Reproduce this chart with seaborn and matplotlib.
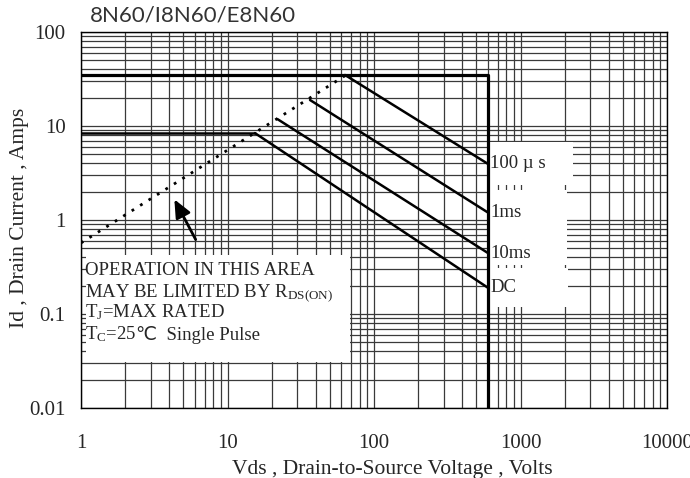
import matplotlib
matplotlib.use("Agg")
import matplotlib.pyplot as plt
import matplotlib.ticker as mticker
from matplotlib.patches import Rectangle
import seaborn as sns
import pandas as pd

# ---- data ----
title = "8N60/I8N60/E8N60"
vds_rds = [1.0, 63.4]          # RDS(on) limit (dotted)
id_rds = [0.57, 34.3]
id_max_pulse = 34.5             # pulsed current limit
id_max_dc = 8.4                 # continuous current limit
v_max = 600                     # BVdss limit
pulse_labels = ["100 \u00b5 s", "1ms", "10ms", "DC"]
v_start = [63.4, 36.6, 22.0, 15.4]
i_start = [34.9, 18.9, 11.8, 8.4]
i_end = [3.95, 1.20, 0.445, 0.19]
x_ticks = [1, 10, 100, 1000, 10000]
x_ticklabels = ["1", "10", "100", "1000", "10000"]
y_ticks = [0.01, 0.1, 1, 10, 100]
y_ticklabels = ["0.01", "0.1", "1", "10", "100"]

sns.set_theme(style="white")
serif = ["Liberation Serif", "DejaVu Sans", "Noto Sans CJK SC"]
plt.rcParams["font.family"] = serif
plt.rcParams["mathtext.fontset"] = "custom"
plt.rcParams["mathtext.rm"] = "Liberation Serif"
plt.rcParams["mathtext.it"] = "Liberation Serif"

fig = plt.figure(figsize=(6.9, 4.78), dpi=100)
ax = fig.add_axes([81/690, 1-408/478, 586/690, 376/478])
ax.set_xscale("log")
ax.set_yscale("log")
ax.set_xlim(1, 10000)
ax.set_ylim(0.01, 100)

ax.xaxis.set_minor_locator(mticker.LogLocator(base=10, subs=range(2, 10), numticks=20))
ax.yaxis.set_minor_locator(mticker.LogLocator(base=10, subs=range(2, 10), numticks=20))
ax.xaxis.set_minor_formatter(mticker.NullFormatter())
ax.yaxis.set_minor_formatter(mticker.NullFormatter())
ax.grid(True, which="both", color="#3a3a3a", linewidth=0.9, zorder=0)
ax.set_axisbelow(True)

# white label boxes covering the grid
box_kw = dict(transform=ax.transAxes, facecolor="white", edgecolor="none", zorder=1.5)
ax.add_patch(Rectangle((0.008, 0.122), 0.451, 0.285, **box_kw))
ax.add_patch(Rectangle((0.698, 0.593), 0.142, 0.114, **box_kw))
ax.add_patch(Rectangle((0.698, 0.380), 0.131, 0.200, **box_kw))
ax.add_patch(Rectangle((0.698, 0.269), 0.133, 0.103, **box_kw))

# boundary lines
lim = pd.DataFrame({"v": [1, v_max, v_max], "i": [id_max_pulse, id_max_pulse, 0.01]})
sns.lineplot(data=lim, x="v", y="i", sort=False, estimator=None, color="black",
             linewidth=2.3, ax=ax, zorder=3)
dc = pd.DataFrame({"v": [1, v_start[3]], "i": [id_max_dc, id_max_dc]})
sns.lineplot(data=dc, x="v", y="i", sort=False, estimator=None, color="black",
             linewidth=1.8, ax=ax, zorder=3)
rds = pd.DataFrame({"v": vds_rds, "i": id_rds})
sns.lineplot(data=rds, x="v", y="i", sort=False, estimator=None, color="black",
             linewidth=2.0, linestyle=(0, (1, 2.6)), ax=ax, zorder=3)

for lab, vs, is_, ie in zip(pulse_labels, v_start, i_start, i_end):
    seg = pd.DataFrame({"v": [vs, v_max], "i": [is_, ie]})
    sns.lineplot(data=seg, x="v", y="i", sort=False, estimator=None, color="black",
                 linewidth=1.8, ax=ax, zorder=3)
    ax.text(v_max * 1.04, ie, lab, fontsize=13.5, va="center", ha="left", zorder=4)

ax.annotate("", xy=(4.25, 1.76), xytext=(6.19, 0.583),
            arrowprops=dict(arrowstyle="-|>,head_length=0.9,head_width=0.4",
                            color="black", lw=2), zorder=4)

txt = ["OPERATION IN THIS AREA",
       r"MAY BE LIMITED BY R$_{\mathrm{DS(ON)}}$",
       r"T$_{\mathrm{J}}$=MAX RATED",
       r"T$_{\mathrm{C}}$=25"]
ys = [0.355, 0.296, 0.240, 0.182]
last = None
for t, yy in zip(txt, ys):
    last = ax.text(0.006, yy, t, transform=ax.transAxes, fontsize=13.5,
                   va="baseline", ha="left", zorder=4)
ax.annotate("\u2103  Single Pulse", xy=(1, ys[-1]), xycoords=(last, "axes fraction"),
            fontsize=13.5, va="baseline", ha="left", family=serif, zorder=4)

ax.set_xticks(x_ticks)
ax.set_xticklabels(x_ticklabels)
ax.set_yticks(y_ticks)
ax.set_yticklabels(y_ticklabels)
ax.tick_params(axis="both", which="both", length=0, labelsize=15)
ax.tick_params(axis="x", pad=19)
ax.tick_params(axis="y", pad=11)

for s in ax.spines.values():
    s.set_color("black")
    s.set_linewidth(1.0)

ax.set_xlabel("Vds , Drain-to-Source Voltage , Volts", fontsize=15.5)
ax.xaxis.set_label_coords(0.531, -0.138)
ax.set_ylabel("Id , Drain Current , Amps", fontsize=15.5)
ax.yaxis.set_label_coords(-0.088, 0.505)

fig.text(90/690, 1-15/478, title, fontsize=16, family=["Lato", "DejaVu Sans"],
         color="#333333", va="center", ha="left")

fig.savefig("out.png", dpi=100, facecolor="white")
